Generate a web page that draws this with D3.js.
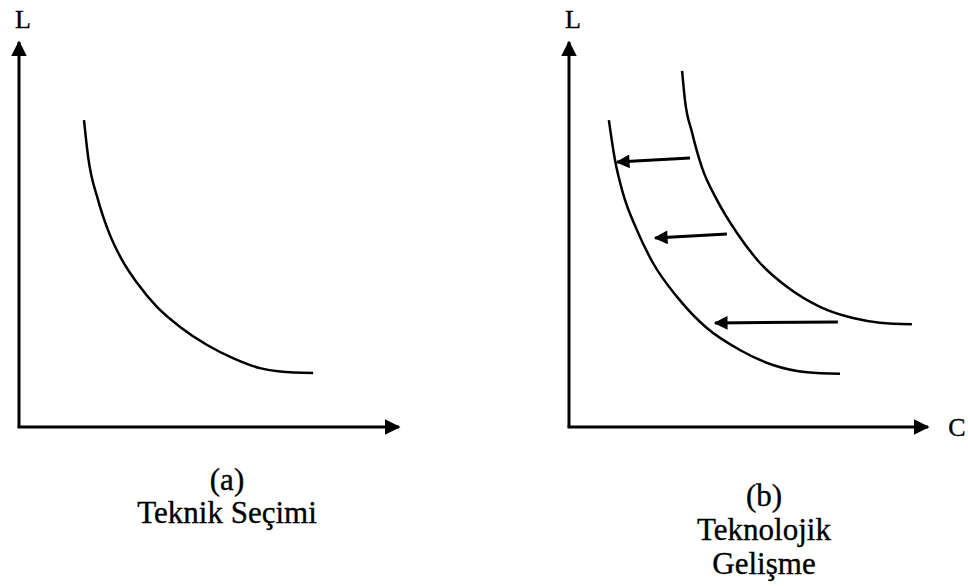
<!DOCTYPE html>
<html>
<head>
<meta charset="utf-8">
<script src="https://cdn.jsdelivr.net/npm/d3@7"></script>
<style>
  body { margin: 0; background: #fff; }
  text { font-family: "Liberation Serif", "Times New Roman", serif; fill: #000; stroke: #000; stroke-width: 0.35; }
</style>
</head>
<body>
<svg id="canves" width="968" height="586"></svg>
<script>
// curve points in axis units (0..100 on each axis)
let curveA = [[17.1,79.7],[18.2,70.1],[20.8,59.0],[23.4,51.2],[27.1,43.4],[31.1,37.4],[36.3,31.2],
              [42.4,26.0],[49.5,21.3],[56.3,17.9],[63.4,15.3],[68.7,14.4],[77.4,14.0]];
let curveBOuter = [[31.5,92.5],[32.3,84.9],[34.3,76.4],[37.0,67.5],[41.2,59.0],[46.8,50.4],[53.2,42.6],
                   [60.7,36.4],[69.9,31.2],[79.1,28.3],[86.6,27.1],[95.5,26.7]];
let curveBInner = [[11.1,79.7],[12.8,69.4],[15.0,60.8],[18.9,51.2],[23.4,42.6],[30.1,33.8],[38.4,25.7],
                   [47.6,20.0],[56.8,16.1],[66.3,14.2],[75.5,13.8]];
// shift arrows: [from, to]
let shifts = [[[33.7,69.9],[13.4,68.8]],
              [[44.0,50.1],[24.0,49.1]],
              [[74.9,27.3],[40.7,27.0]]];
let axisLabels = ["L", "C"];
let captionA = ["(a)", "Teknik Seçimi"];
let captionB = ["(b)", "Teknolojik", "Gelişme"];

let svg = d3.select("#canves");

let defs = svg.append("defs");
defs.append("marker")
    .attr("id", "axHead")
    .attr("viewBox", "0 0 10 10")
    .attr("refX", 9).attr("refY", 5)
    .attr("markerWidth", 5.3).attr("markerHeight", 5.2)
    .attr("markerUnits", "strokeWidth")
    .attr("orient", "auto")
    .append("path").attr("d", "M0,0 L10,5 L0,10 Z").attr("fill", "#000");
defs.append("marker")
    .attr("id", "shiftHead")
    .attr("viewBox", "0 0 10 10")
    .attr("refX", 9).attr("refY", 5)
    .attr("markerWidth", 5.5).attr("markerHeight", 4.6)
    .attr("markerUnits", "strokeWidth")
    .attr("orient", "auto")
    .append("path").attr("d", "M0,0 L10,5 L0,10 Z").attr("fill", "#000");

let line = (x, y) => d3.line().x(d => x(d[0])).y(d => y(d[1])).curve(d3.curveMonotoneX);

let drawPanel = (x0, x1, curves, arrows, showC) => {
  let x = d3.scaleLinear().domain([0, 100]).range([x0, x1]);
  let y = d3.scaleLinear().domain([0, 100]).range([427, 42]);
  let g = svg.append("g");

  // axes
  g.append("line")
   .attr("x1", x(0)).attr("y1", y(0)).attr("x2", x(0)).attr("y2", y(100))
   .attr("stroke", "#000").attr("stroke-width", 3)
   .attr("marker-end", "url(#axHead)");
  g.append("line")
   .attr("x1", x(0) - 1.5).attr("y1", y(0)).attr("x2", x(100)).attr("y2", y(0))
   .attr("stroke", "#000").attr("stroke-width", 3)
   .attr("marker-end", "url(#axHead)");

  g.append("text")
   .attr("x", x(0) + 4).attr("y", y(100) - 14)
   .attr("text-anchor", "middle")
   .attr("font-size", 26)
   .text(axisLabels[0]);
  if (showC) {
    g.append("text")
     .attr("x", x(100) + 29).attr("y", y(0) + 9)
     .attr("text-anchor", "middle")
     .attr("font-size", 26)
     .text(axisLabels[1]);
  }

  g.selectAll("path.curve")
   .data(curves)
   .enter()
   .append("path")
   .attr("class", "curve")
   .attr("d", d => line(x, y)(d))
   .attr("fill", "none")
   .attr("stroke", "#000")
   .attr("stroke-width", 2.5);

  g.selectAll("line.shift")
   .data(arrows)
   .enter()
   .append("line")
   .attr("class", "shift")
   .attr("x1", d => x(d[0][0])).attr("y1", d => y(d[0][1]))
   .attr("x2", d => x(d[1][0])).attr("y2", d => y(d[1][1]))
   .attr("stroke", "#000").attr("stroke-width", 3)
   .attr("marker-end", "url(#shiftHead)");
  return x;
};

drawPanel(19, 399, [curveA], [], false);
drawPanel(569, 928, [curveBOuter, curveBInner], shifts, true);

let caption = (lines, cx, y0, gap) => {
  svg.append("g").selectAll("text")
     .data(lines)
     .enter()
     .append("text")
     .attr("x", cx)
     .attr("y", (d, i) => y0 + i * gap)
     .attr("text-anchor", "middle")
     .attr("font-size", 31)
     .text(d => d);
};
caption(captionA, 227, 490, 33);
caption(captionB, 764, 506, 34);
</script>
</body>
</html>
